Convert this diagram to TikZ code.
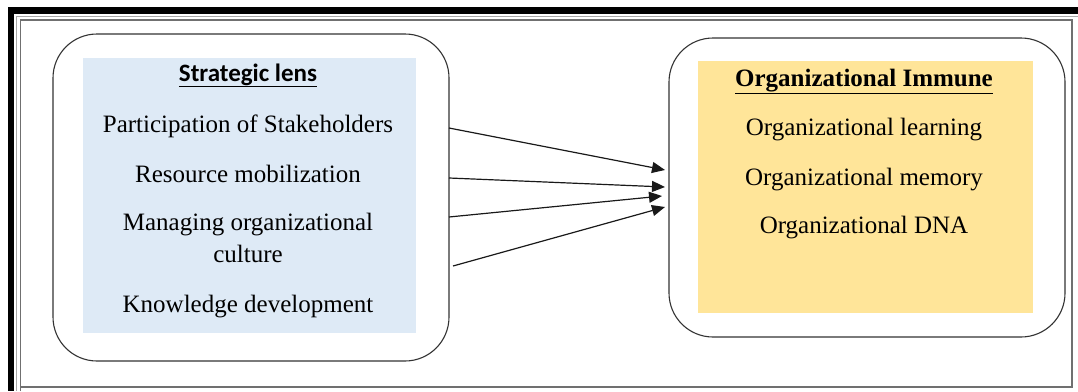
\documentclass[tikz,border=0pt]{standalone}
\usepackage{fontspec}
\setmainfont{Liberation Serif}
\newfontfamily\calfont{Carlito}
\usetikzlibrary{arrows.meta}
\definecolor{lensblue}{HTML}{DEEAF6}
\definecolor{immyellow}{HTML}{FFE599}
\definecolor{framegray}{HTML}{707070}
\tikzset{
  outerbox/.style={draw=black!80, line width=1.1pt, rounded corners=44pt, fill=white, inner sep=0pt},
  panel/.style={draw=none, inner sep=0pt},
  itemtext/.style={anchor=base, inner sep=0pt, font=\fontsize{25}{32}\selectfont, align=center},
  headtext/.style={anchor=base, inner sep=0pt, font=\fontsize{25}{32}\selectfont\bfseries},
  link/.style={line width=1.2pt, draw=black!90, -{Triangle[length=13pt,width=11pt]}},
}
\begin{document}
\begin{tikzpicture}[x=1pt,y=-1pt]
\useasboundingbox (0,0) rectangle (1078,391);
% page frame
\fill[black] (8,7) rectangle (1078,14);
\fill[black] (8,7) rectangle (14,391);
\draw[black!35, line width=0.8pt] (16,391) -- (16,16.5) -- (1078,16.5);
\draw[framegray, line width=1.3pt] (20.5,391) -- (20.5,20) -- (1072,20) -- (1072,387) -- (20.5,387);
% left box
\node[outerbox, minimum width=396pt, minimum height=327pt] (L) at (251,197.5) {};
\node[panel, fill=lensblue, minimum width=333pt, minimum height=275pt] (Lp) at (249.5,195.5) {};
\node[headtext, font=\fontsize{25}{32}\selectfont\calfont\bfseries] (l0) at (248,81) {\underline{Strategic lens}};
\node[itemtext] (l1) at (248,132) {Participation of Stakeholders};
\node[itemtext] (l2) at (248,182) {Resource mobilization};
\node[itemtext] (l3) at (248,262) {Managing organizational\\culture};
\node[itemtext] (l4) at (248,312) {Knowledge development};
% right box
\node[outerbox, minimum width=396pt, minimum height=299pt] (R) at (867,187.5) {};
\node[panel, fill=immyellow, minimum width=335pt, minimum height=252pt] (Rp) at (865.5,187) {};
\node[headtext] (r0) at (864,86) {\underline{Organizational Immune}};
\node[itemtext] (r1) at (864,135) {Organizational learning};
\node[itemtext] (r2) at (864,185) {Organizational memory};
\node[itemtext] (r3) at (864,233) {Organizational DNA};
% connectors
\coordinate (s1) at (449,128);
\coordinate (s2) at (449,178);
\coordinate (s3) at (449,217);
\coordinate (s4) at (453,266);
\coordinate (e1) at (665,170);
\coordinate (e2) at (665,187);
\coordinate (e3) at (662,196);
\coordinate (e4) at (665,207);
\draw[link] (s1) -- (e1);
\draw[link] (s2) -- (e2);
\draw[link] (s3) -- (e3);
\draw[link] (s4) -- (e4);
\end{tikzpicture}
\end{document}
